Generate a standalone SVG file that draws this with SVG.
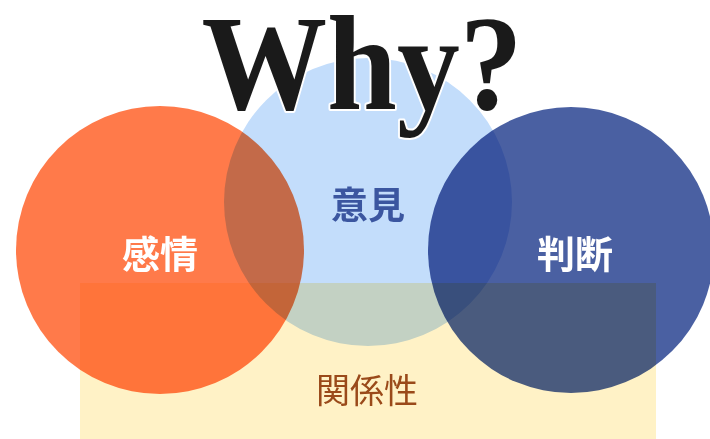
<svg xmlns="http://www.w3.org/2000/svg" width="710" height="439" viewBox="0 0 710 439">
<style>
.m{mix-blend-mode:multiply}
.lbl{font-family:"Noto Sans CJK JP","Noto Sans CJK SC",sans-serif;text-anchor:middle;dominant-baseline:central}
</style>
<rect width="710" height="439" fill="#ffffff"/>
<g id="diagram" style="isolation:isolate">
<g id="relation-area"><rect class="m" x="80" y="283" width="576" height="156" fill="#FFF2C6"/></g>
<g id="emotion"><circle class="m" cx="160" cy="250" r="144" fill="#FF7A4A"/></g>
<g id="opinion"><circle class="m" cx="368" cy="202" r="144" fill="#C3DDFB"/></g>
<g id="judgement"><circle class="m" cx="571" cy="250" r="143" fill="#4A60A2"/></g>
</g>
<g id="title"><text x="362" y="109" font-family="Liberation Serif, serif" font-weight="bold" font-size="136" text-anchor="middle" textLength="321" lengthAdjust="spacingAndGlyphs" fill="#1a1a1a" stroke="#ffffff" stroke-width="4" paint-order="stroke" stroke-linejoin="round">Why?</text></g>
<g id="labels">
<text class="lbl" x="160" y="251" font-size="38" font-weight="bold" fill="#ffffff">感情</text>
<text class="lbl" x="368" y="203" font-size="37" font-weight="bold" fill="#3B56A0">意見</text>
<text class="lbl" x="575" y="251" font-size="38" font-weight="bold" fill="#ffffff">判断</text>
<text class="lbl" x="367" y="388" font-size="34" fill="#9A4A1A">関係性</text>
</g>
</svg>
